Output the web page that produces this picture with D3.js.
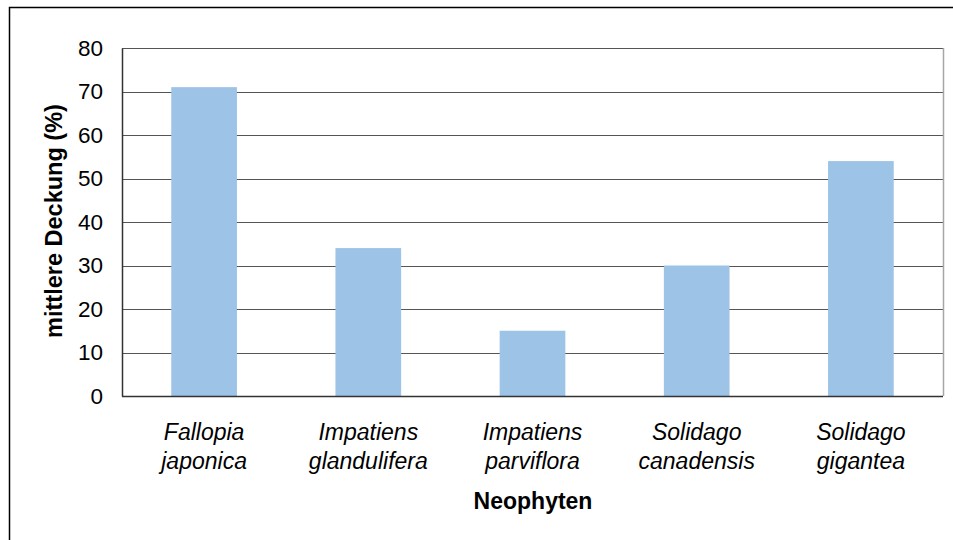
<!DOCTYPE html>
<html>
<head>
    <meta charset="utf-8" />
    <title>Neophyten - mittlere Deckung</title>
    <style>
        body { margin: 0; background: #fff; }
        svg { font-family: "Liberation Sans", Arial, sans-serif; }
        .tick text { font-size: 22.5px; fill: #000; }
    </style>
    <script src="https://cdn.jsdelivr.net/npm/d3@7"></script>
</head>
<body>
<script>
    // data
    const species = [
        ["Fallopia", "japonica"],
        ["Impatiens", "glandulifera"],
        ["Impatiens", "parviflora"],
        ["Solidago", "canadensis"],
        ["Solidago", "gigantea"]
    ];
    const cover = [71, 34, 15, 30, 54];
    const yTicks = [0, 10, 20, 30, 40, 50, 60, 70, 80];

    const W = 953, H = 540;
    const margin = { top: 48, right: 10, bottom: 144, left: 122 };
    const width = W - margin.left - margin.right,
          height = H - margin.top - margin.bottom;

    const svg = d3.select('body').append('svg')
        .attr('width', W)
        .attr('height', H);

    // outer chart frame
    svg.append('rect')
        .attr('x', 9.5).attr('y', 7.5)
        .attr('width', W).attr('height', H)
        .attr('fill', 'none')
        .attr('stroke', '#000')
        .attr('stroke-width', 1.5);

    const g = svg.append('g')
        .attr('transform', 'translate(' + margin.left + ',' + margin.top + ')');

    const x = d3.scaleBand()
        .domain(d3.range(species.length))
        .range([0, width])
        .paddingInner(0.6)
        .paddingOuter(0.3);

    const y = d3.scaleLinear().domain([0, 80]).range([height, 0]);

    // gridlines
    g.selectAll('.grid')
        .data(yTicks.filter(d => d > 0))
        .enter().append('line')
        .attr('x1', 0).attr('x2', width)
        .attr('y1', d => Math.round(y(d)) + 0.5)
        .attr('y2', d => Math.round(y(d)) + 0.5)
        .attr('stroke', '#555')
        .attr('stroke-width', 1);

    // right border of plot area
    g.append('line')
        .attr('x1', width + 0.5).attr('x2', width + 0.5)
        .attr('y1', 0).attr('y2', height)
        .attr('stroke', '#a6a6a6')
        .attr('stroke-width', 1.5);

    // bars
    g.selectAll('.bar')
        .data(cover)
        .enter().append('rect')
        .attr('class', 'bar')
        .attr('x', (d, i) => x(i))
        .attr('width', x.bandwidth())
        .attr('y', d => y(d))
        .attr('height', d => height - y(d))
        .attr('fill', '#9dc3e6');

    // y axis
    const yAxis = g.append('g')
        .call(d3.axisLeft(y).tickValues(yTicks).tickSize(0).tickPadding(19));
    yAxis.select('.domain').attr('stroke', '#333').attr('stroke-width', 1.5);

    // x axis line
    g.append('line')
        .attr('x1', 0).attr('x2', width)
        .attr('y1', height + 0.5).attr('y2', height + 0.5)
        .attr('stroke', '#333')
        .attr('stroke-width', 1.5);

    // category labels (two lines, italic)
    const cat = g.selectAll('.cat')
        .data(species)
        .enter().append('text')
        .attr('class', 'cat')
        .attr('text-anchor', 'middle')
        .attr('font-size', 23)
        .attr('font-style', 'italic')
        .attr('transform', (d, i) => 'translate(' + (x(i) + x.bandwidth() / 2) + ',' + (height + 44) + ')');
    cat.selectAll('tspan')
        .data(d => d)
        .enter().append('tspan')
        .attr('x', 0)
        .attr('dy', (d, i) => i === 0 ? 0 : 29)
        .text(d => d);

    // axis titles
    svg.append('text')
        .attr('x', 533)
        .attr('y', 509)
        .attr('text-anchor', 'middle')
        .attr('font-size', 23)
        .attr('font-weight', 'bold')
        .text('Neophyten');

    svg.append('text')
        .attr('transform', 'translate(62,221) rotate(-90)')
        .attr('text-anchor', 'middle')
        .attr('font-size', 23.5)
        .attr('font-weight', 'bold')
        .text('mittlere Deckung (%)');
</script>
</body>
</html>
